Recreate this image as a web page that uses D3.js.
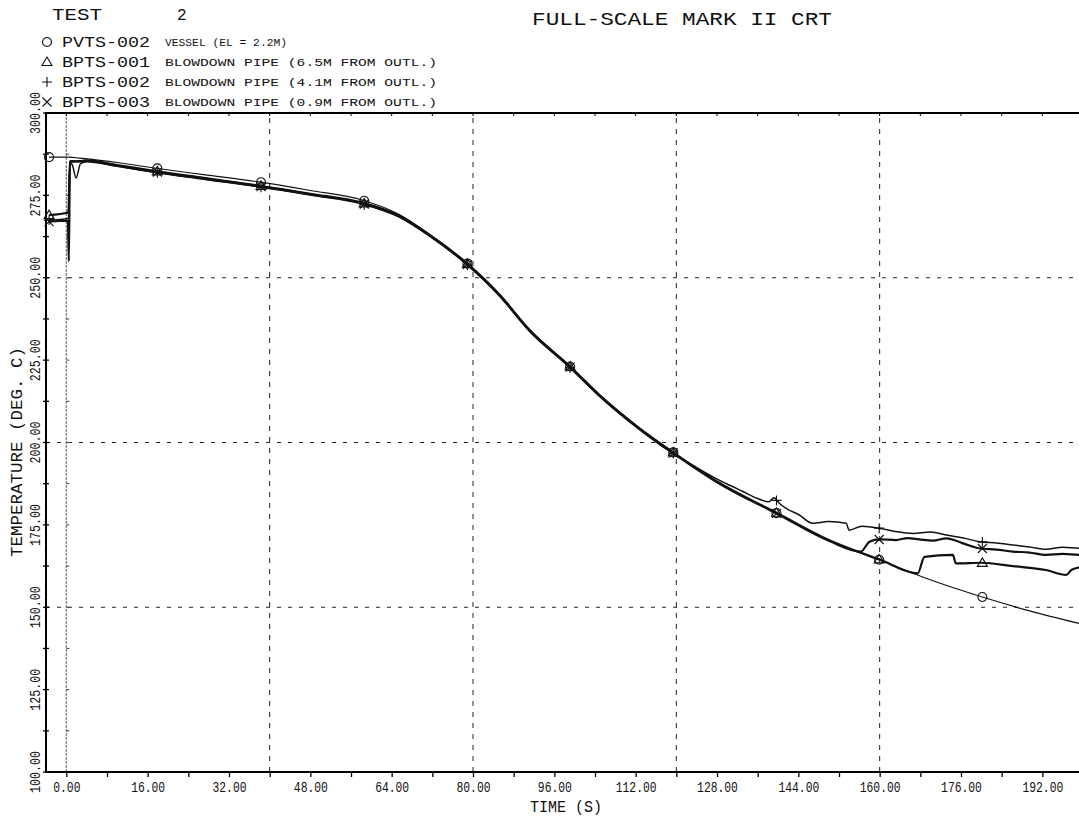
<!DOCTYPE html>
<html>
<head>
<meta charset="utf-8">
<script src="https://cdn.jsdelivr.net/npm/d3@7"></script>
<style>
  body { margin: 0; background: #fff; }
  svg { display: block; }
  text { font-family: "Liberation Mono", "DejaVu Sans Mono", monospace; fill: #111; }
</style>
</head>
<body>
<div id="plot01"></div>
<script>
// ---- data ----
const seriesNames = ['PVTS-002', 'BPTS-001', 'BPTS-002', 'BPTS-003'];
const seriesDescriptions = [
  'VESSEL (EL = 2.2M)',
  'BLOWDOWN PIPE (6.5M FROM OUTL.)',
  'BLOWDOWN PIPE (4.1M FROM OUTL.)',
  'BLOWDOWN PIPE (0.9M FROM OUTL.)'
];
const seriesSymbols = ['circle', 'triangle', 'plus', 'cross'];

const timeVessel = [-3.4, 0.6, 2.6, 10, 16.9, 27, 37.8, 48, 58.2, 65.5, 71.4, 78.7, 85.2, 91.1, 99.0, 104.9, 112.7, 119.0, 128.5, 139.9, 150.1, 160.1, 169.8, 180.2, 189.5, 200];
const tempVessel = [286.6, 286.6, 286.3, 285.0, 283.4, 281.3, 279.1, 276.5, 273.6, 269.2, 263.2, 254.6, 244.9, 234.2, 223.2, 214.4, 204.4, 197.4, 187.7, 178.4, 170.2, 164.3, 158.4, 153.1, 148.9, 144.8];

const timePipe1 = [-3.4, 0.4, 0.7, 2.6, 4, 10, 16.9, 27, 37.8, 48, 58.2, 65.5, 71.4, 78.7, 85.2, 91.1, 99.0, 104.9, 112.7, 119.0, 128.5, 139.9, 150.1, 160.1, 167.5, 168.8, 174.4, 175.0, 180.0, 186.2, 192.7, 196.7, 197.7, 199.3, 200];
const tempPipe1 = [269.0, 269.8, 285.2, 285.4, 285.6, 284.2, 282.5, 280.3, 278.0, 275.5, 272.8, 268.8, 263.1, 254.5, 244.9, 234.2, 223.2, 214.4, 204.4, 197.4, 187.7, 178.5, 170.3, 164.4, 160.3, 165.3, 165.9, 163.3, 163.5, 162.5, 161.3, 159.8, 161.3, 162.1, 162.3];

const timePipe2 = [-3.4, 0.4, 0.7, 1.2, 1.9, 2.8, 4, 10, 16.9, 27, 37.8, 48, 58.2, 65.5, 71.4, 78.7, 85.2, 91.1, 99.0, 104.9, 112.7, 119.0, 124, 127, 130, 133, 136, 138.2, 139.2, 140.3, 141.6, 144.2, 146.8, 150, 153.4, 154, 156.5, 159.9, 163, 166.5, 170, 173.1, 176.5, 179.6, 183, 186.2, 189.5, 192.7, 196, 199.3, 200];
const tempPipe2 = [267.5, 268.0, 285.0, 284.2, 280.3, 284.6, 285.2, 283.8, 282.1, 279.9, 277.6, 275.1, 272.4, 268.4, 262.7, 254.1, 244.5, 233.8, 222.8, 214.0, 204.0, 197.0, 192.4, 189.7, 187.4, 185.2, 183.0, 182.0, 183.2, 181.5, 180.0, 178.0, 175.5, 176.0, 175.5, 173.4, 174.6, 174.0, 173.0, 172.4, 172.8, 171.9, 171.0, 169.9, 169.5, 168.9, 168.3, 167.6, 168.2, 167.9, 167.9];

const timePipe3 = [-3.4, 0.3, 0.5, 0.7, 2.6, 4, 10, 16.9, 27, 37.8, 48, 58.2, 65.5, 71.4, 78.7, 85.2, 91.1, 99.0, 104.9, 112.7, 119.0, 128.5, 139.9, 150.1, 156.3, 158.0, 160.0, 163.2, 165.5, 167.8, 170.5, 173.1, 176.4, 179.6, 183, 186.2, 189.5, 192.7, 196, 199.3, 200];
const tempPipe3 = [267.0, 267.3, 255.0, 285.4, 285.3, 285.5, 284.0, 282.3, 280.1, 277.8, 275.3, 272.6, 268.6, 262.9, 254.3, 244.7, 234.0, 223.0, 214.2, 204.2, 197.2, 187.5, 178.3, 170.1, 166.9, 169.9, 170.6, 170.4, 171.0, 170.6, 170.2, 170.9, 169.4, 167.9, 167.5, 166.9, 166.6, 165.9, 166.2, 165.9, 165.9];

// symbols were plotted every ~20 s
const markerTimes = [-3.4, 17.9, 38.3, 58.6, 78.9, 99.1, 119.4, 139.7, 159.9, 180.2];

const xTicks = d3.range(0, 193, 8);
const xLabelTicks = d3.range(0, 193, 16);
const yTicks = d3.range(100, 300.1, 12.5);
const yLabelTicks = d3.range(100, 300.1, 25);
const xGrid = [40, 80, 120, 160];
const yGrid = [150, 200, 250];

// ---- layout ----
const width = 1079, height = 819;
const svg = d3.select('#plot01').append('svg')
  .attr('width', width).attr('height', height);
svg.append('rect').attr('width', width).attr('height', height).attr('fill', '#fff');

const x = d3.scaleLinear().domain([-4, 200]).range([46, 1083]);
const y = d3.scaleLinear().domain([100, 300]).range([772, 113]);

// grid
svg.append('g').selectAll('line').data(yGrid).join('line')
  .attr('x1', x(-4)).attr('x2', x(200))
  .attr('y1', d => y(d)).attr('y2', d => y(d))
  .attr('stroke', '#222').attr('stroke-width', 1)
  .attr('stroke-dasharray', '4,7');
svg.append('g').selectAll('line').data(xGrid).join('line')
  .attr('x1', d => x(d)).attr('x2', d => x(d))
  .attr('y1', y(100)).attr('y2', y(300))
  .attr('stroke', '#222').attr('stroke-width', 1)
  .attr('stroke-dasharray', '5,6');
// zero time line with its little ticks
svg.append('line')
  .attr('x1', x(0)).attr('x2', x(0)).attr('y1', y(100)).attr('y2', y(300))
  .attr('stroke', '#777').attr('stroke-width', 1.2).attr('stroke-dasharray', '3,1');
svg.append('g').selectAll('line').data(yTicks).join('line')
  .attr('x1', x(0)).attr('x2', x(0) + 3)
  .attr('y1', d => y(d)).attr('y2', d => y(d))
  .attr('stroke', '#444');

// frame
svg.append('path')
  .attr('d', `M${x(200)},${y(300)}H${x(-4)}V${y(100)}H${x(200)}`)
  .attr('fill', 'none').attr('stroke', '#000').attr('stroke-width', 2);

// bottom axis
const xAxis = d3.axisBottom(x)
  .tickValues(xTicks)
  .tickSize(5).tickSizeOuter(0).tickPadding(5)
  .tickFormat(d => xLabelTicks.includes(d) ? d3.format('.2f')(d) : '');
const gx = svg.append('g').attr('transform', `translate(0,${y(100)})`).call(xAxis);
gx.select('.domain').remove();
gx.selectAll('.tick line').attr('stroke', '#000').attr('stroke-width', 1.3);
gx.selectAll('.tick text')
  .style('font-family', '"Liberation Mono", monospace')
  .attr('font-size', 14)
  .attr('fill', '#111')
  .each(function(d) {
    const t = d3.select(this).text();
    if (t) d3.select(this).attr('textLength', t.length * 6.8).attr('lengthAdjust', 'spacingAndGlyphs');
  });

// top ticks
svg.append('g').selectAll('line').data(xTicks).join('line')
  .attr('x1', d => x(d)).attr('x2', d => x(d))
  .attr('y1', y(300)).attr('y2', y(300) + 3)
  .attr('stroke', '#000');

// left ticks and labels
svg.append('g').selectAll('line').data(yTicks).join('line')
  .attr('x1', x(-4) - 3).attr('x2', x(-4) + 3)
  .attr('y1', d => y(d)).attr('y2', d => y(d))
  .attr('stroke', '#000').attr('stroke-width', 1.3);
svg.append('g').selectAll('text').data(yLabelTicks).join('text')
  .attr('transform', d => `translate(40,${y(d)}) rotate(-90)`)
  .attr('text-anchor', 'middle')
  .attr('font-size', 14)
  .attr('textLength', 42).attr('lengthAdjust', 'spacingAndGlyphs')
  .text(d => d3.format('.2f')(d));

// axis titles
svg.append('text')
  .attr('transform', `translate(22,${452}) rotate(-90)`)
  .attr('text-anchor', 'middle')
  .attr('font-size', 16)
  .attr('textLength', 210).attr('lengthAdjust', 'spacingAndGlyphs')
  .text('TEMPERATURE (DEG. C)');
svg.append('text')
  .attr('x', 530).attr('y', 812)
  .attr('font-size', 16)
  .attr('textLength', 72).attr('lengthAdjust', 'spacingAndGlyphs')
  .text('TIME (S)');

// titles
svg.append('text').attr('x', 52).attr('y', 20).attr('font-size', 16)
  .attr('textLength', 50).attr('lengthAdjust', 'spacingAndGlyphs').attr('fill', '#555')
  .text('TEST');
svg.append('text').attr('x', 177).attr('y', 20).attr('font-size', 16).attr('fill', '#555')
  .text('2');
svg.append('text').attr('x', 532).attr('y', 25).attr('font-size', 18).attr('fill', '#444')
  .attr('textLength', 300).attr('lengthAdjust', 'spacingAndGlyphs')
  .text('FULL-SCALE MARK II CRT');

// symbols
function symbolPath(type) {
  if (type === 'circle') return 'M4.5,0A4.5,4.5 0 1,1 -4.5,0A4.5,4.5 0 1,1 4.5,0Z';
  if (type === 'triangle') return 'M0,-5L5,3.5L-5,3.5Z';
  if (type === 'plus') return 'M-5,0H5M0,-5V5';
  return 'M-4.5,-4.5L4.5,4.5M-4.5,4.5L4.5,-4.5';
}

// legend
const legendRowsY = [42, 62, 82, 102];
const legend = svg.append('g').selectAll('g').data(seriesNames).join('g')
  .attr('transform', (d, i) => `translate(0,${legendRowsY[i]})`);
legend.append('path')
  .attr('transform', 'translate(47,0)')
  .attr('d', (d, i) => symbolPath(seriesSymbols[i]))
  .attr('fill', 'none').attr('stroke', '#111').attr('stroke-width', 1.1);
legend.append('text')
  .attr('x', 62).attr('y', 5).attr('font-size', 14)
  .attr('textLength', 88).attr('lengthAdjust', 'spacingAndGlyphs')
  .text(d => d);
legend.append('text')
  .attr('x', 165).attr('y', 4).attr('font-size', 10.5)
  .attr('textLength', (d, i) => i === 0 ? 122 : 272).attr('lengthAdjust', 'spacingAndGlyphs')
  .text((d, i) => seriesDescriptions[i]);

// series
const series = [
  { times: timeVessel, temps: tempVessel, width: 1.1, symbol: 'circle' },
  { times: timePipe1, temps: tempPipe1, width: 2.2, symbol: 'triangle' },
  { times: timePipe2, temps: tempPipe2, width: 1.5, symbol: 'plus' },
  { times: timePipe3, temps: tempPipe3, width: 2.2, symbol: 'cross' }
];

const line = d3.line()
  .x(d => x(d[0])).y(d => y(d[1]))
  .curve(d3.curveMonotoneX);

function valueAt(s, t) {
  const i = d3.bisectLeft(s.times, t);
  if (i <= 0) return s.temps[0];
  if (i >= s.times.length) return s.temps[s.times.length - 1];
  const t0 = s.times[i - 1], t1 = s.times[i];
  return d3.interpolateNumber(s.temps[i - 1], s.temps[i])((t - t0) / (t1 - t0));
}

const plot = svg.append('g');
plot.selectAll('path.series').data(series).join('path')
  .attr('class', 'series')
  .attr('d', s => line(d3.zip(s.times, s.temps)))
  .attr('fill', 'none').attr('stroke', '#111')
  .attr('stroke-width', s => s.width)
  .attr('stroke-linejoin', 'round');

series.forEach(s => {
  plot.append('g').selectAll('path').data(markerTimes).join('path')
    .attr('transform', t => `translate(${x(t)},${y(valueAt(s, t))})`)
    .attr('d', symbolPath(s.symbol))
    .attr('fill', 'none').attr('stroke', '#111').attr('stroke-width', 1.1);
});
</script>
</body>
</html>
